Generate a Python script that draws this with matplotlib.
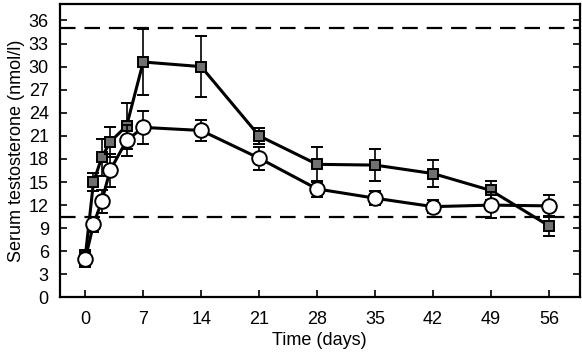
#!/usr/bin/env python3
"""Serum testosterone over time for two treatment groups, with reference range."""

import matplotlib

matplotlib.use("Agg")
import matplotlib.pyplot as plt

DAYS = [0, 1, 2, 3, 5, 7, 14, 21, 28, 35, 42, 49, 56]

SQUARE_MEAN = [5.2, 15.0, 18.2, 20.2, 22.3, 30.6, 30.0, 21.0, 17.3, 17.2, 16.1, 13.9, 9.3]
SQUARE_ERR = [1.0, 1.2, 2.4, 2.0, 3.0, 4.3, 4.0, 1.0, 2.3, 2.1, 1.8, 1.2, 1.3]

CIRCLE_MEAN = [5.0, 9.5, 12.5, 16.5, 20.4, 22.1, 21.7, 18.1, 14.1, 12.9, 11.8, 12.0, 11.9]
CIRCLE_ERR = [1.0, 1.0, 1.5, 2.1, 2.0, 2.1, 1.4, 1.5, 1.0, 0.9, 0.8, 1.7, 1.4]

REF_UPPER = 35.0
REF_LOWER = 10.4

X_TICKS = [0, 7, 14, 21, 28, 35, 42, 49, 56]
Y_TICKS = list(range(0, 37, 3))


def main() -> None:
    plt.rcParams.update(
        {
            "font.family": ["Liberation Sans", "DejaVu Sans"],
            "font.size": 13,
        }
    )

    fig = plt.figure(figsize=(5.82, 3.52), dpi=100)
    ax = fig.add_axes([0.103, 0.155, 0.893, 0.835])

    ax.axhline(REF_UPPER, color="black", linestyle=(0, (7, 4)), linewidth=1.6, zorder=1)
    ax.axhline(REF_LOWER, color="black", linestyle=(0, (7, 4)), linewidth=1.6, zorder=1)

    ax.errorbar(
        DAYS, SQUARE_MEAN, yerr=SQUARE_ERR,
        color="black", linewidth=2.2, elinewidth=1.2, capsize=4, capthick=1.2,
        marker="s", markersize=7.5, markerfacecolor="#707070",
        markeredgecolor="black", markeredgewidth=1.4, zorder=3,
    )
    ax.errorbar(
        DAYS, CIRCLE_MEAN, yerr=CIRCLE_ERR,
        color="black", linewidth=2.2, elinewidth=1.2, capsize=4, capthick=1.2,
        marker="o", markersize=10.5, markerfacecolor="white",
        markeredgecolor="black", markeredgewidth=1.4, zorder=4,
    )

    ax.set_xlim(-3.05, 59.7)
    ax.set_ylim(0, 38.2)
    ax.set_xticks(X_TICKS)
    ax.set_yticks(Y_TICKS)
    ax.tick_params(direction="in", length=5, width=1.2, right=True)
    ax.tick_params(axis="y", pad=8)
    ax.tick_params(axis="x", pad=10)

    ax.set_xlabel("Time (days)", labelpad=3)
    ax.set_ylabel("Serum testosterone (nmol/l)", labelpad=3)

    for spine in ax.spines.values():
        spine.set_linewidth(1.6)

    fig.savefig("out.png", dpi=100)


if __name__ == "__main__":
    main()
